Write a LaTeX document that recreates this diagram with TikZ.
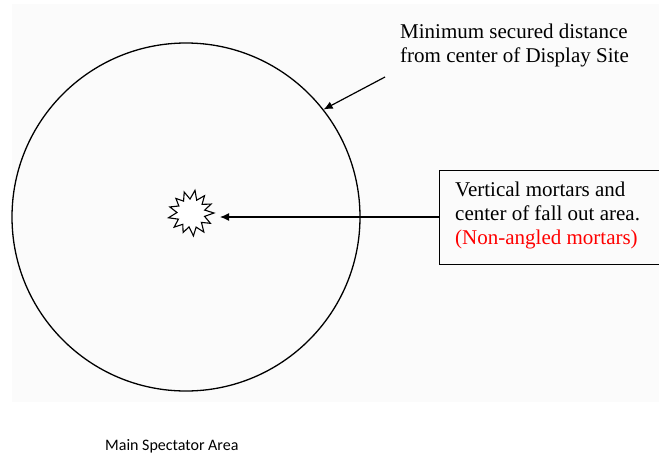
\documentclass[tikz,border=0pt]{standalone}
\usepackage{fontspec}
\setmainfont{Liberation Serif}
\newfontfamily\tnr{Liberation Serif}
\newfontfamily\calib{Carlito}
\usetikzlibrary{arrows.meta}
\tikzset{
  ln/.style={line width=1.2pt, draw=black},
  arr/.style={ln, -{Latex[length=9pt,width=8pt]}},
  serif21/.style={font=\tnr\fontsize{21}{24}\selectfont, inner sep=0pt, align=left},
}
\begin{document}
\begin{tikzpicture}[x=1pt,y=-1pt]
\useasboundingbox (0,0) rectangle (659,453);
\clip (0,0) rectangle (659,453);
% faint scanned background
\fill[black!1.5] (12,4) rectangle (665,402);
% circle
\node[circle, draw, line width=1.3pt, minimum size=348pt, inner sep=0pt] (circ) at (186,217) {};
% starburst
\coordinate (burst) at (191,213);
\draw[line width=1.1pt, fill=white]
  (burst) +(0:23) -- +(14:14) -- +(28:22) -- +(42:14) -- +(56:23) -- +(70:15)
  -- +(84:23) -- +(98:14) -- +(112:21) -- +(126:14) -- +(140:22) -- +(154:14)
  -- +(168:23) -- +(182:14) -- +(196:22) -- +(210:14) -- +(224:21) -- +(238:14)
  -- +(252:22) -- +(266:14) -- +(280:23) -- +(294:14) -- +(308:22) -- +(322:14)
  -- +(336:22) -- +(348:14) -- cycle;
\coordinate (burstR) at (220,217);
% top label
\node[serif21, anchor=north west] (toplbl) at (400,23.5) {Minimum secured distance\\from center of Display Site};
\coordinate (tail) at (385,77);
\draw[arr] (tail) -- (circ.38.5);
% box
\node[draw, line width=1.2pt, minimum width=240pt, minimum height=94pt, anchor=north west, inner sep=0pt] (box) at (439,170) {};
\node[serif21, anchor=north west] (boxtxt) at (455,181.5) {Vertical mortars and\\center of fall out area.\\\textcolor{red}{(Non-angled mortars)}};
\draw[arr] (box.west |- 0,217) -- (burstR);
% bottom label
\node[font=\calib\fontsize{16}{19}\selectfont, anchor=base west, inner sep=0pt] (spect) at (105,450) {Main Spectator Area};
\end{tikzpicture}
\end{document}
